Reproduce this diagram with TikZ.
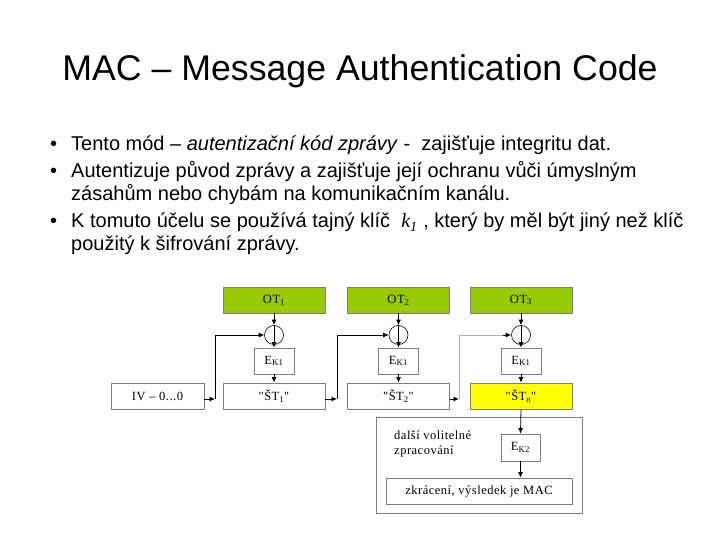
\documentclass[tikz,border=0pt]{standalone}
\usepackage{fontspec}
\setmainfont{Liberation Sans}
\newfontfamily\tms[LetterSpace=4]{Liberation Serif}
\usetikzlibrary{arrows.meta,calc}
\definecolor{otgreen}{HTML}{99CC00}
\definecolor{styellow}{HTML}{FFFF00}
\definecolor{boxgray}{HTML}{7F7F7F}
\newcommand{\sbs}[1]{\textsubscript{#1}}
\tikzset{
  bx/.style={draw=boxgray, line width=0.8pt, inner sep=0pt, font=\tms\fontsize{12.5}{14}\selectfont, text=black},
  wide/.style={bx, minimum width=102pt, minimum height=26pt},
  small/.style={bx, minimum width=40pt, minimum height=26pt},
  xorc/.style={draw=black, line width=0.6pt, circle, minimum size=19pt, inner sep=0pt},
  arr/.style={-{Latex[length=5.5pt,width=5pt]}, line width=0.8pt},
  ln/.style={line width=0.8pt},
  bul/.style={anchor=base west, inner sep=0pt, font=\fontsize{20}{24}\selectfont},
}
\begin{document}
\begin{tikzpicture}[x=1pt,y=-1pt]
\useasboundingbox (0,0) rectangle (720,540);
% title
\node[inner sep=0pt, anchor=base, font=\fontsize{35.7}{40}\selectfont] (title) at (360,81) {MAC – Message Authentication Code};
% bullets
\node[bul] (b1) at (50,151) {•};
\node[bul] (t1) at (71,151) {Tento mód – \textit{autentizační kód zprávy} -\ \ zajišťuje integritu dat.};
\node[bul] (b2) at (50,178) {•};
\node[bul] (t2) at (71,178) {Autentizuje původ zprávy a zajišťuje její ochranu vůči úmyslným};
\node[bul] (t2b) at (71,201) {zásahům nebo chybám na komunikačním kanálu.};
\node[bul] (b3) at (50,228) {•};
\node[bul] (t3) at (71,228) {K tomuto účelu se používá tajný klíč \ {\tms\itshape k\sbs{1}}\ , který by měl být jiný než klíč};
\node[bul] (t3b) at (71,251) {použitý k šifrování zprávy.};
% boxes
\node[wide, fill=otgreen] (ot1) at (274,300) {OT\sbs{1}};
\node[wide, fill=otgreen] (ot2) at (398.5,300) {OT\sbs{2}};
\node[wide, fill=otgreen] (ot3) at (521,300) {OT\sbs{3}};
\node[xorc] (x1) at (274,335) {};
\node[xorc] (x2) at (398.5,335) {};
\node[xorc] (x3) at (521,335) {};
\node[small, fill=white] (e1) at (274,361) {E\sbs{K1}};
\node[small, fill=white] (e2) at (398.5,361) {E\sbs{K1}};
\node[small, fill=white] (e3) at (521,361) {E\sbs{K1}};
\node[wide, fill=white] (s1) at (274,396) {"ŠT\sbs{1}"};
\node[wide, fill=white] (s2) at (398.5,396) {"ŠT\sbs{2}"};
\node[wide, fill=styellow] (s3) at (521,396) {"ŠT\sbs{n}"};
\node[bx, minimum width=93pt, minimum height=26pt, fill=white] (iv) at (157.5,396) {IV – 0...0};
% vertical flow
\foreach \i in {1,2,3}{
  \draw[arr] (ot\i.south) -- (x\i.north);
  \draw[ln] (x\i.north) -- (x\i.south);
  \draw[arr] (x\i.south) -- (e\i.north);
  \draw[arr] (e\i.south) -- (s\i.north);
}
% feedback
\coordinate (j1) at (215,399);
\coordinate (j2) at (337,399);
\coordinate (j3) at (459,399);
\draw[arr] (iv.east |- j1) -- (j1);
\draw[arr] (j1) -- (j1 |- x1.west) -- (x1.west);
\draw[arr] (s1.east |- j2) -- (j2);
\draw[arr] (j2) -- (j2 |- x2.west) -- (x2.west);
\draw[arr] (s2.east |- j3) -- (j3);
\draw[ln, draw=gray!60] (j3) -- (j3 |- x3.west) -- ($(x3.west)+(-8,0)$);
\draw[arr] ($(x3.west)+(-8,0)$) -- (x3.west);
% bottom section
\node[bx, minimum width=206pt, minimum height=96pt, fill=white] (outer) at (479,465) {};
\node[small, minimum width=39pt, minimum height=27pt, fill=white] (e4) at (520.5,447.5) {E\sbs{K2}};
\node[bx, minimum width=186pt, minimum height=26pt, fill=white] (mac) at (479,491) {zkrácení, výsledek je MAC};
\node[anchor=north west, inner sep=0pt, align=left, font=\tms\fontsize{12.5}{15}\selectfont] (dv) at (394,431) {další volitelné\\zpracování};
\draw[arr] (s3.south) -- (e4.north);
\draw[arr] (e4.south) -- (e4.south |- mac.north);
\end{tikzpicture}
\end{document}
